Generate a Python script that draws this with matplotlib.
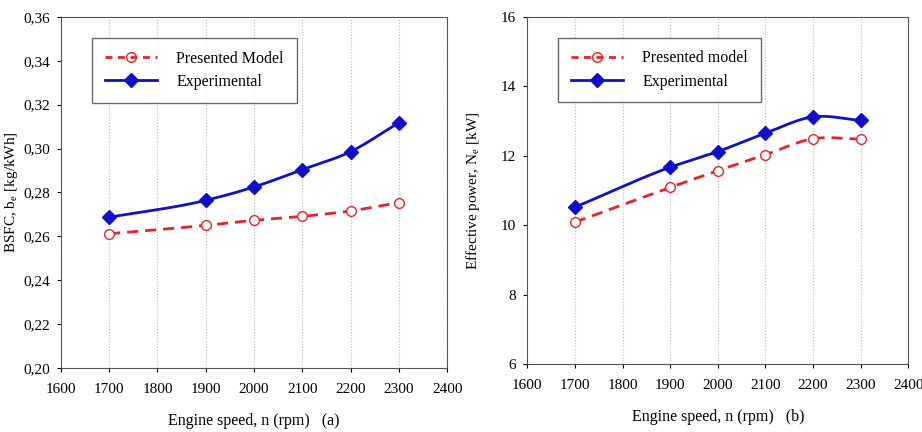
import numpy as np
import matplotlib
matplotlib.use('Agg')
import matplotlib.pyplot as plt
from matplotlib.ticker import FuncFormatter

plt.rcParams['font.family'] = ['Liberation Serif', 'DejaVu Serif']

speed = [1700, 1900, 2000, 2100, 2200, 2300]

bsfc_model = [0.2612, 0.2650, 0.2673, 0.2691, 0.2716, 0.2754]
bsfc_exp   = [0.2687, 0.2764, 0.2825, 0.2904, 0.2986, 0.3118]

power_model = [10.09, 11.09, 11.57, 12.03, 12.49, 12.48]
power_exp   = [10.52, 11.67, 12.12, 12.65, 13.12, 13.02]


def smooth(x, y, n=30):
    # hermite curve through the points, for drawing only
    x = np.asarray(x, float)
    y = np.asarray(y, float)
    m = np.gradient(y, x)
    xs, ys = [], []
    for i in range(len(x) - 1):
        h = x[i+1] - x[i]
        t = np.linspace(0, 1, n)
        h00 = 2*t**3 - 3*t**2 + 1
        h10 = t**3 - 2*t**2 + t
        h01 = -2*t**3 + 3*t**2
        h11 = t**3 - t**2
        xs.append(x[i] + t*h)
        ys.append(h00*y[i] + h10*h*m[i] + h01*y[i+1] + h11*h*m[i+1])
    return np.concatenate(xs), np.concatenate(ys)


fig = plt.figure(figsize=(9.22, 4.32), dpi=100)
ax1 = fig.add_axes([0.066, 0.148, 0.419, 0.813])
ax2 = fig.add_axes([0.572, 0.157, 0.413, 0.804])

red = '#e8222a'
blue = '#1010c8'


def draw(ax, ym, ye, lab_m):
    xs, ys = smooth(speed, ym)
    ax.plot(xs, ys, color=red, lw=2, ls=(0, (4, 2.5)))
    xs, ys = smooth(speed, ye)
    ax.plot(xs, ys, color=blue, lw=2)
    ax.plot(speed, ym, 'o', ms=7, mfc='white', mec=red, mew=1)
    ax.plot(speed, ye, 'D', ms=7, color=blue)
    hm, = ax.plot([], [], color=red, lw=2, ls=(0, (2.5, 2)), marker='o',
                  ms=7, mfc='none', mec=red, mew=1)
    he, = ax.plot([], [], color=blue, lw=2, marker='D', ms=7)
    leg = ax.legend([hm, he], [lab_m, 'Experimental'], loc='upper left',
                    bbox_to_anchor=(0.08, 0.94), fontsize=11.5, fancybox=False,
                    handlelength=3.3, handletextpad=1.2, borderpad=0.8,
                    borderaxespad=0, labelspacing=0.45)
    leg.get_frame().set_edgecolor('#444444')
    leg.get_frame().set_linewidth(1)
    ax.set_xlim(1600, 2400)
    ax.set_xticks(np.arange(1600, 2401, 100))
    ax.grid(axis='x', color='#bbbbbb', ls=':', lw=0.8)
    ax.tick_params(direction='out', length=3, labelsize=11)
    ax.tick_params(axis='x', pad=8)
    ax.tick_params(axis='y', pad=5)
    for s in ax.spines.values():
        s.set_color('#555555')


draw(ax1, bsfc_model, bsfc_exp, 'Presented Model')
ax1.set_ylim(0.20, 0.36)
ax1.set_yticks(np.arange(0.20, 0.361, 0.02))
ax1.yaxis.set_major_formatter(FuncFormatter(lambda v, _: f'{v:.2f}'.replace('.', ',')))
ax1.set_ylabel('BSFC, b$_\\mathregular{e}$ [kg/kWh]', fontsize=11, labelpad=2)
ax1.set_xlabel('Engine speed, n (rpm)   (a)', fontsize=11.5, labelpad=12)

draw(ax2, power_model, power_exp, 'Presented model')
ax2.set_ylim(6, 16)
ax2.set_yticks(np.arange(6, 17, 2))
ax2.set_ylabel('Effective power, N$_\\mathregular{e}$ [kW]', fontsize=11, labelpad=14)
ax2.set_xlabel('Engine speed, n (rpm)   (b)', fontsize=11.5, labelpad=12)

plt.savefig('out.png', dpi=100)
